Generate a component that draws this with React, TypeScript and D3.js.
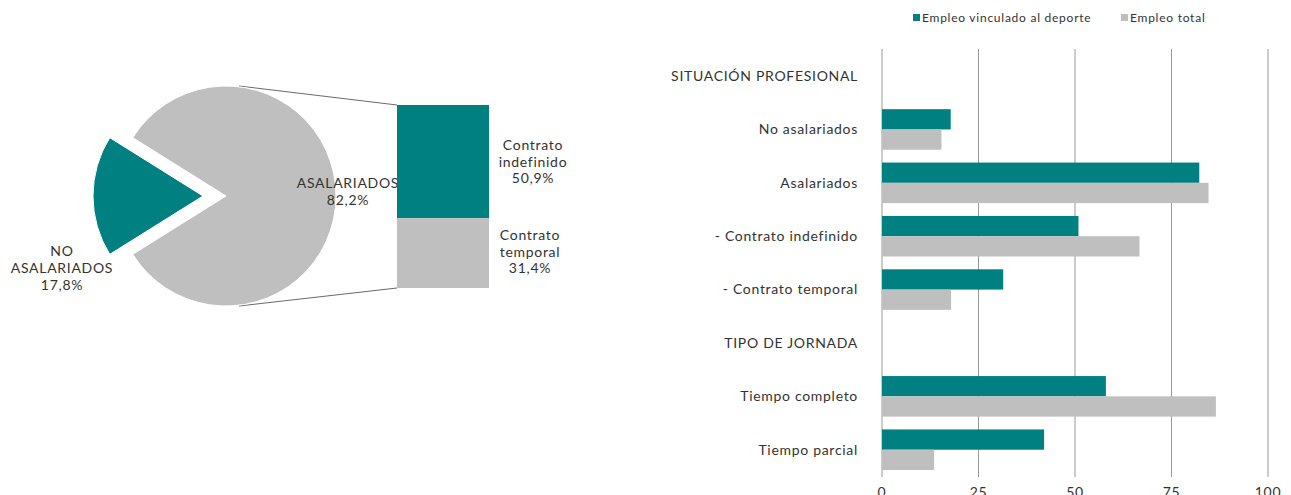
import * as d3 from "d3";
import React from "react";

// pie: situación profesional
const pieLabels = ["ASALARIADOS", "NO ASALARIADOS"];
const pieValues = [82.2, 17.8];
// bar of pie: asalariados split
const stackLabels = ["Contrato indefinido", "Contrato temporal"];
const stackValues = [50.9, 31.4];

// bar chart
const categories = [
  "SITUACIÓN PROFESIONAL",
  "No asalariados",
  "Asalariados",
  "- Contrato indefinido",
  "- Contrato temporal",
  "TIPO DE JORNADA",
  "Tiempo completo",
  "Tiempo parcial",
];
const seriesNames = ["Empleo vinculado al deporte", "Empleo total"];
const deporte = [null, 17.8, 82.2, 50.9, 31.4, null, 58.0, 42.0];
const total = [null, 15.4, 84.6, 66.7, 17.9, null, 86.5, 13.5];
const ticks = [0, 25, 50, 75, 100];

const TEAL = "#008080";
const GREY = "#bfbfbf";
const TEXT = "#333333";
const FONT = "Lato, 'Open Sans', sans-serif";
const LS = 0.7; // letter spacing to get closer to the original (wider) font

const fmt = (v: number) => v.toFixed(1).replace(".", ",") + "%";

export default function App() {
  const W = 1291;
  const H = 495;

  // ---- pie ----
  const cx = 226;
  const cy = 196;
  const r = 110;
  const total0 = d3.sum(pieValues);
  const smallAngle = (pieValues[1] / total0) * 2 * Math.PI;
  const start = (3 * Math.PI) / 2 + smallAngle / 2 - 2 * Math.PI;
  const pie = d3
    .pie<number>()
    .sort(null)
    .startAngle(start)
    .endAngle(start + 2 * Math.PI);
  const arcs = pie(pieValues);
  const arc = d3.arc<d3.PieArcDatum<number>>().innerRadius(0).outerRadius(r);
  const explode = 23;

  // ---- stacked bar of pie ----
  const sx0 = 397;
  const sx1 = 489;
  const sTop = 105;
  const sy = d3
    .scaleLinear()
    .domain([0, d3.sum(stackValues)])
    .range([0, 183]);
  let acc = 0;
  const stack = stackValues.map((v, i) => {
    const y0 = sTop + sy(acc);
    acc += v;
    return { v, i, y0, y1: sTop + sy(acc) };
  });

  // ---- bar chart ----
  const x = d3.scaleLinear().domain([0, 100]).range([882, 1268]);
  const y = d3
    .scaleBand<string>()
    .domain(categories)
    .range([49.4, 476.4])
    .padding(0);
  const bw = y.bandwidth();
  const ySub = d3
    .scaleBand<string>()
    .domain(seriesNames)
    .range([bw * 0.12, bw * 0.88]);
  const series = [deporte, total];
  const colors = [TEAL, GREY];

  return (
    <svg
      width={W}
      height={H}
      style={{ position: "absolute", left: 0, top: 0, display: "block" }}
      fontFamily={FONT}
      letterSpacing={LS}
    >
      {/* connector lines */}
      <line x1={cx + 13} y1={cy - r} x2={sx0} y2={sTop} stroke="#444" strokeWidth={0.8} />
      <line x1={cx + 13} y1={cy + r} x2={sx0} y2={sTop + sy(d3.sum(stackValues))} stroke="#444" strokeWidth={0.8} />

      {arcs.map((a, i) => {
        const mid = (a.startAngle + a.endAngle) / 2;
        const dx = i === 1 ? Math.sin(mid) * explode : 0;
        const dy = i === 1 ? -Math.cos(mid) * explode : 0;
        return (
          <path
            key={i}
            d={arc(a) || ""}
            transform={`translate(${cx + dx},${cy + dy})`}
            fill={i === 0 ? GREY : TEAL}
            stroke="#fff"
            strokeWidth={1}
          />
        );
      })}

      <text x={348} y={188} textAnchor="middle" fontSize={14} fill={TEXT}>
        <tspan x={348}>{pieLabels[0]}</tspan>
        <tspan x={348} dy={16.5}>{fmt(pieValues[0])}</tspan>
      </text>
      <text x={62} y={256} textAnchor="middle" fontSize={14} fill={TEXT}>
        <tspan x={62}>NO</tspan>
        <tspan x={62} dy={17}>ASALARIADOS</tspan>
        <tspan x={62} dy={17}>{fmt(pieValues[1])}</tspan>
      </text>

      {stack.map((s) => (
        <rect
          key={s.i}
          x={sx0}
          y={s.y0}
          width={sx1 - sx0}
          height={s.y1 - s.y0}
          fill={s.i === 0 ? TEAL : GREY}
        />
      ))}
      {stack.map((s) => {
        const words = stackLabels[s.i].split(" ");
        const cxl = s.i === 0 ? 533 : 530;
        const ty = s.i === 0 ? 150 : 240;
        return (
          <text key={s.i} x={cxl} y={ty} textAnchor="middle" fontSize={14} fill={TEXT}>
            <tspan x={cxl}>{words[0]}</tspan>
            <tspan x={cxl} dy={16.5}>{words[1]}</tspan>
            <tspan x={cxl} dy={16.5}>{fmt(s.v)}</tspan>
          </text>
        );
      })}

      {/* legend */}
      {seriesNames.map((n, i) => {
        const lx = i === 0 ? 913 : 1121;
        return (
          <g key={n}>
            <rect x={lx} y={14} width={7} height={7} fill={colors[i]} />
            <text x={lx + 9} y={22} fontSize={12} letterSpacing={0.75} fill={TEXT}>
              {n}
            </text>
          </g>
        );
      })}

      {/* gridlines */}
      {ticks.map((t) => (
        <g key={t}>
          <line
            x1={x(t)}
            x2={x(t)}
            y1={49}
            y2={477}
            stroke="#999"
            strokeWidth={1}
          />
          <text x={x(t)} y={497} textAnchor="middle" fontSize={14} fill={TEXT}>
            {t}
          </text>
        </g>
      ))}

      {/* bars */}
      {series.map((vals, si) =>
        vals.map((v, ci) =>
          v == null ? null : (
            <rect
              key={`${si}-${ci}`}
              x={x(0)}
              y={(y(categories[ci]) || 0) + (ySub(seriesNames[si]) || 0)}
              width={x(v) - x(0)}
              height={ySub.bandwidth()}
              fill={colors[si]}
            />
          )
        )
      )}

      {/* category labels */}
      {categories.map((c) => (
        <text
          key={c}
          x={858}
          y={(y(c) || 0) + bw / 2}
          dy="0.35em"
          textAnchor="end"
          fontSize={14}
          fill={TEXT}
        >
          {c}
        </text>
      ))}
    </svg>
  );
}
